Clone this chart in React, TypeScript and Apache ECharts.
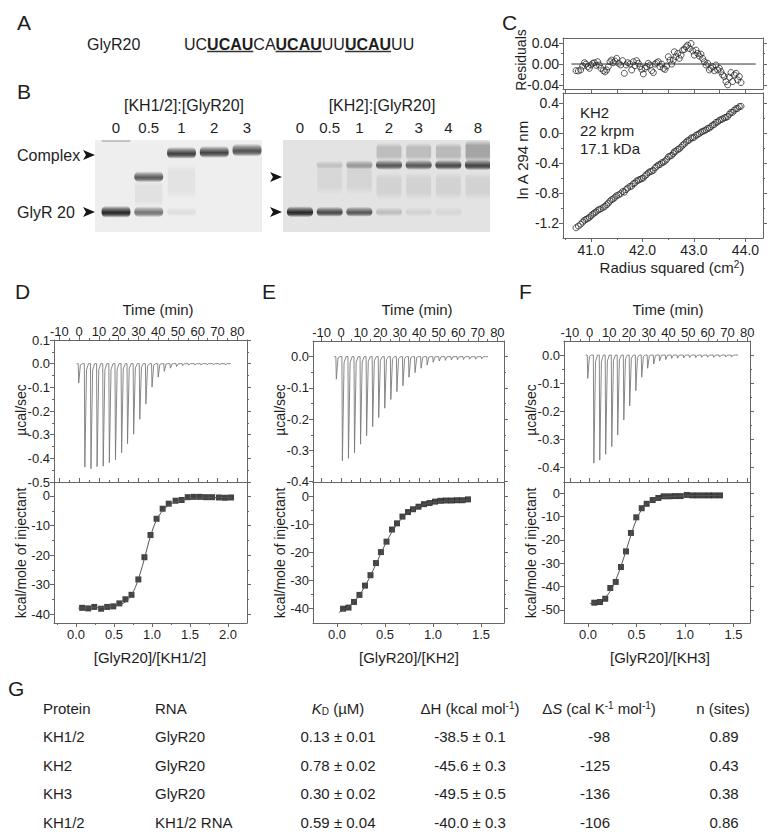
import React, { useEffect, useRef } from 'react';
import * as echarts from 'echarts';

const FONT = '"Liberation Sans", Arial, Helvetica, sans-serif';
const INK = '#1e1e1e';
const AXIS = '#666666';

// ---------------- Panel A
const seqName = 'GlyR20';
const seqParts = ['UC', 'UCAU', 'CA', 'UCAU', 'UU', 'UCAU', 'UU'];
const seqBold = [false, true, false, true, false, true, false];

// ---------------- Panel B (gels): [lane, migration (0 top .. 1 bottom), intensity, thickness, kind (0 band, 1 smear)]
const gel1Title = '[KH1/2]:[GlyR20]';
const gel1Lanes = ['0', '0.5', '1', '2', '3'];
const gel1Bands = [
  [0, 0.78, 0.92, 0.13, 0],
  [0, 0.01, 0.25, 0.03, 0],
  [1, 0.78, 0.55, 0.12, 0],
  [1, 0.4, 0.68, 0.12, 0],
  [1, 0.58, 0.06, 0.3, 1],
  [2, 0.14, 0.8, 0.13, 0],
  [2, 0.78, 0.07, 0.1, 0],
  [2, 0.45, 0.05, 0.4, 1],
  [3, 0.13, 0.78, 0.13, 0],
  [4, 0.11, 0.72, 0.14, 0],
];
const gel2Title = '[KH2]:[GlyR20]';
const gel2Lanes = ['0', '0.5', '1', '2', '3', '4', '8'];
const gel2Bands = [
  [0, 0.78, 0.92, 0.12, 0],
  [1, 0.78, 0.75, 0.11, 0],
  [1, 0.27, 0.15, 0.09, 0],
  [1, 0.42, 0.06, 0.35, 1],
  [2, 0.78, 0.68, 0.11, 0],
  [2, 0.27, 0.35, 0.1, 0],
  [2, 0.42, 0.07, 0.35, 1],
  [3, 0.78, 0.18, 0.1, 0],
  [3, 0.27, 0.68, 0.11, 0],
  [3, 0.13, 0.18, 0.2, 1],
  [3, 0.5, 0.08, 0.3, 1],
  [4, 0.78, 0.08, 0.1, 0],
  [4, 0.27, 0.68, 0.11, 0],
  [4, 0.13, 0.18, 0.2, 1],
  [4, 0.5, 0.08, 0.3, 1],
  [5, 0.78, 0.06, 0.1, 0],
  [5, 0.27, 0.75, 0.11, 0],
  [5, 0.13, 0.2, 0.2, 1],
  [5, 0.5, 0.08, 0.3, 1],
  [6, 0.27, 0.78, 0.12, 0],
  [6, 0.12, 0.3, 0.24, 1],
  [6, 0.5, 0.08, 0.3, 1],
];
const gelMarkers = ['Complex', 'GlyR 20'];

// ---------------- Panel C (sedimentation equilibrium)
const cRadiusSq = [
  40.709, 40.754, 40.799, 40.838, 40.871, 40.903, 40.935, 40.968, 41.0, 41.032,
  41.065, 41.097, 41.129, 41.162, 41.194, 41.239, 41.272, 41.304, 41.337, 41.369,
  41.401, 41.434, 41.466, 41.498, 41.537, 41.576, 41.615, 41.647, 41.68, 41.712,
  41.757, 41.79, 41.822, 41.854, 41.887, 41.919, 41.951, 41.984, 42.016, 42.049,
  42.081, 42.113, 42.146, 42.178, 42.21, 42.243, 42.275, 42.307, 42.34, 42.372,
  42.405, 42.437, 42.469, 42.502, 42.534, 42.566, 42.599, 42.618, 42.65, 42.683,
  42.715, 42.748, 42.78, 42.812, 42.845, 42.877, 42.909, 42.942, 42.974, 43.006,
  43.039, 43.071, 43.104, 43.136, 43.168, 43.201, 43.233, 43.265, 43.298, 43.33,
  43.362, 43.395, 43.427, 43.46, 43.492, 43.524, 43.557, 43.589, 43.621, 43.654,
  43.686, 43.718, 43.751, 43.783, 43.816, 43.848, 43.88, 43.913,
];
const cResiduals = [
  -0.0127, -0.0133, -0.0114, -0.0038, 0.0025, 0.0, -0.0051, -0.0083, -0.0019, 0.0013,
  0.0025, -0.0025, 0.0044, -0.0019, -0.0083, -0.0127, -0.0152, -0.0114, -0.0051, 0.0044,
  0.0076, 0.0025, 0.0057, 0.0108, 0.0013, -0.0019, 0.0064, -0.0178, -0.0019, 0.0025,
  0.0, -0.0114, 0.0044, -0.0032, 0.0064, 0.0013, -0.0051, -0.0102, -0.0191, -0.0083,
  -0.0051, 0.0013, -0.0019, -0.0127, -0.0165, 0.0, 0.0025, 0.0044, -0.0051, 0.0,
  -0.0083, -0.0102, -0.0038, 0.014, 0.0076, 0.0, 0.0076, 0.0235, 0.014, 0.0203,
  0.0108, 0.0171, 0.0267, 0.0279, 0.033, 0.0362, 0.0298, 0.0394, 0.0254, 0.0171,
  0.0267, 0.0203, 0.0152, 0.019, 0.0108, 0.0044, -0.0019, 0.0013, -0.0114, -0.0083,
  -0.0051, -0.0127, -0.0019, -0.0114, -0.0083, -0.0146, -0.021, -0.0241, -0.0337, -0.04,
  -0.0254, -0.0165, -0.0337, -0.021, -0.0178, -0.0305, -0.0241, -0.0356,
];
const cLnA = [
  -1.263, -1.241, -1.216, -1.188, -1.165, -1.151, -1.14, -1.126, -1.103, -1.084,
  -1.066, -1.054, -1.031, -1.02, -1.01, -0.992, -0.977, -0.957, -0.934, -0.908,
  -0.888, -0.877, -0.857, -0.835, -0.825, -0.808, -0.78, -0.788, -0.755, -0.734,
  -0.713, -0.708, -0.676, -0.667, -0.64, -0.629, -0.619, -0.607, -0.6, -0.572,
  -0.552, -0.53, -0.516, -0.51, -0.498, -0.464, -0.445, -0.427, -0.42, -0.398,
  -0.39, -0.375, -0.352, -0.318, -0.308, -0.299, -0.274, -0.249, -0.242, -0.219,
  -0.212, -0.188, -0.162, -0.145, -0.123, -0.103, -0.093, -0.067, -0.064, -0.056,
  -0.03, -0.02, -0.008, 0.012, 0.021, 0.031, 0.041, 0.061, 0.065, 0.085,
  0.104, 0.114, 0.141, 0.148, 0.168, 0.178, 0.188, 0.202, 0.208, 0.219,
  0.25, 0.275, 0.275, 0.304, 0.324, 0.328, 0.351, 0.356,
];
const cZeroSpan = [40.62, 44.2];
const cNotes = ['KH2', '22 krpm', '17.1 kDa'];
const cRadiusTicks = [41, 42, 43, 44];
const cRadiusMinor = [40.5, 41.5, 42.5, 43.5];
const cLnATicks = [-1.2, -0.8, -0.4, 0, 0.4];
const cLnAMinor = [-1.0, -0.6, -0.2, 0.2];
const cResidTicks = [-0.04, 0, 0.04];
const cResidMinor = [-0.02, 0.02];

// ---------------- Panels D-F (ITC)
const timeTicks = [-10, 0, 10, 20, 30, 40, 50, 60, 70, 80];
const timeMinor = [-5, 5, 15, 25, 35, 45, 55, 65, 75];

const dInjTime = [-0.5, 2.6, 5.7, 8.8, 11.9, 15.0, 18.1, 21.2, 24.2, 27.3, 30.4, 33.5, 36.6, 39.7, 42.8, 45.9, 49.0, 52.1, 55.1, 58.2, 61.3, 64.4, 67.5, 70.6, 73.7];
const dPeak = [-0.082, -0.437, -0.444, -0.435, -0.433, -0.418, -0.406, -0.376, -0.338, -0.298, -0.235, -0.17, -0.099, -0.057, -0.033, -0.019, -0.012, -0.008, -0.006, -0.005, -0.005, -0.004, -0.004, -0.004, -0.004];
const dTraceSpan = [-1.3, 76.7];
const dRatio = [0.08, 0.16, 0.24, 0.33, 0.41, 0.49, 0.57, 0.65, 0.73, 0.82, 0.9, 0.98, 1.06, 1.14, 1.22, 1.31, 1.39, 1.47, 1.55, 1.63, 1.71, 1.79, 1.88, 1.96, 2.04];
const dHeat = [-37.8, -38.0, -37.5, -38.1, -37.5, -37.3, -36.3, -34.9, -33.4, -28.2, -20.7, -13.2, -7.7, -4.3, -2.6, -1.6, -1.35, -0.4, -0.3, -0.3, -0.4, -0.4, -0.5, -0.6, -0.5];
const dFitRatio = [0.03, 0.2, 0.4, 0.5, 0.6, 0.66, 0.72, 0.78, 0.84, 0.9, 0.96, 1.02, 1.08, 1.16, 1.26, 1.4, 1.6, 2.05];
const dFitHeat = [-37.9, -37.8, -37.6, -37.3, -36.5, -35.6, -33.8, -30.9, -26.5, -21.2, -15.3, -10.5, -7.1, -4.4, -2.5, -1.3, -0.7, -0.5];

const eInjTime = [-2.7, 0.4, 3.5, 6.6, 9.7, 12.8, 15.9, 19.0, 22.1, 25.2, 28.3, 31.4, 34.5, 37.6, 40.7, 43.8, 46.9, 50.0, 53.1, 56.2, 59.3, 62.4, 65.5, 68.6, 71.7];
const ePeak = [-0.072, -0.333, -0.325, -0.308, -0.28, -0.253, -0.224, -0.195, -0.165, -0.137, -0.112, -0.093, -0.066, -0.051, -0.037, -0.027, -0.018, -0.014, -0.012, -0.011, -0.01, -0.009, -0.008, -0.008, -0.007];
const eTraceSpan = [-3.5, 75.2];
const eRatio = [0.063, 0.12, 0.177, 0.234, 0.292, 0.349, 0.406, 0.458, 0.516, 0.573, 0.625, 0.682, 0.74, 0.792, 0.849, 0.906, 0.964, 1.021, 1.078, 1.135, 1.193, 1.25, 1.307, 1.365];
const eHeat = [-40.0, -39.6, -37.6, -35.1, -31.8, -28.1, -23.8, -19.9, -16.2, -11.9, -9.7, -7.3, -5.7, -4.7, -3.8, -2.9, -2.5, -2.0, -1.7, -1.6, -1.6, -1.5, -1.5, -1.2];
const eFitRatio = [0.02, 0.1, 0.2, 0.3, 0.4, 0.5, 0.6, 0.7, 0.8, 0.9, 1.0, 1.15, 1.37];
const eFitHeat = [-41.3, -39.8, -36.7, -31.5, -24.6, -17.3, -11.3, -7.1, -4.6, -3.1, -2.3, -1.8, -1.4];

const fInjTime = [-1.2, 1.9, 4.9, 7.9, 11.0, 14.0, 17.1, 20.1, 23.2, 26.2, 29.2, 32.3, 35.3, 38.4, 41.4, 44.4, 47.5, 50.5, 53.6, 56.6, 59.6, 62.7, 65.7, 68.8, 71.8];
const fPeak = [-0.083, -0.385, -0.374, -0.353, -0.326, -0.285, -0.231, -0.181, -0.127, -0.079, -0.047, -0.032, -0.021, -0.016, -0.012, -0.011, -0.01, -0.009, -0.009, -0.008, -0.008, -0.008, -0.007, -0.007, -0.007];
const fTraceSpan = [-2.0, 75.4];
const fRatio = [0.065, 0.124, 0.178, 0.23, 0.286, 0.34, 0.392, 0.443, 0.498, 0.554, 0.605, 0.667, 0.725, 0.78, 0.838, 0.897, 0.956, 1.018, 1.075, 1.131, 1.189, 1.247, 1.302, 1.361];
const fHeat = [-46.9, -46.6, -45.2, -40.6, -38.0, -31.6, -24.9, -17.0, -10.3, -6.4, -4.5, -2.9, -2.0, -1.3, -1.3, -1.2, -1.2, -0.7, -0.9, -0.9, -0.9, -0.9, -0.9, -0.9];
const fFitRatio = [0.02, 0.1, 0.16, 0.22, 0.28, 0.34, 0.4, 0.45, 0.5, 0.55, 0.6, 0.67, 0.75, 0.85, 1.0, 1.37];
const fFitHeat = [-47.3, -46.6, -45.4, -42.6, -37.8, -31.3, -23.6, -17.0, -11.2, -7.2, -4.8, -3.0, -1.9, -1.4, -1.1, -0.9];

const itcXLabels = ['[GlyR20]/[KH1/2]', '[GlyR20]/[KH2]', '[GlyR20]/[KH3]'];

// ---------------- Panel G (table)
const tableProtein = ['KH1/2', 'KH2', 'KH3', 'KH1/2'];
const tableRNA = ['GlyR20', 'GlyR20', 'GlyR20', 'KH1/2 RNA'];
const tableKD = ['0.13 ± 0.01', '0.78 ± 0.02', '0.30 ± 0.02', '0.59 ± 0.04'];
const tableDH = ['-38.5 ± 0.1', '-45.6 ± 0.3', '-49.5 ± 0.5', '-40.0 ± 0.3'];
const tableDS = ['-98', '-125', '-136', '-106'];
const tableN = ['0.89', '0.43', '0.38', '0.86'];

const zip = (a: number[], b: number[]) => a.map((v, i) => [v, b[i]]);

function trace(times: number[], peaks: number[], span: number[]) {
  const pts: number[][] = [[span[0], 0]];
  times.forEach((t, i) => {
    const d = peaks[i];
    pts.push([t, 0], [t + 0.25, d], [t + 1.1, d * 0.06], [t + 2.1, 0]);
  });
  pts.push([span[1], 0]);
  return pts;
}

function buildOption() {
  const xAxes: any[] = [];
  const yAxes: any[] = [];
  function addAxis(dim: string, grid: number, pos: string, min: number, max: number, major: number[], minor: number[], o: any = {}) {
    const list = dim === 'x' ? xAxes : yAxes;
    const idx = list.length;
    const inR = (v: number) => v >= min - 1e-9 && v <= max + 1e-9;
    const maj = major.filter(inR);
    const mnr = minor.filter(inR);
    const base = { type: 'value', gridIndex: grid, position: pos, min, max, splitLine: { show: false }, splitArea: { show: false }, axisPointer: { show: false }, silent: true };
    list.push({
      ...base,
      axisLine: { show: true, onZero: false, lineStyle: { color: AXIS, width: 1 } },
      axisTick: { show: maj.length > 0, customValues: maj, length: 4, inside: !!o.inside, lineStyle: { color: AXIS, width: 1 } },
      axisLabel: { show: !!o.labels, customValues: maj, formatter: o.fmt, margin: o.margin ?? 4, fontSize: o.size ?? 13, lineHeight: o.lh ?? 12, color: INK, fontFamily: FONT },
    });
    if (mnr.length) {
      list.push({
        ...base,
        axisLine: { show: false, onZero: false },
        axisTick: { show: true, customValues: mnr, length: 2, inside: !!o.inside, lineStyle: { color: AXIS, width: 1 } },
        axisLabel: { show: false },
      });
    }
    return idx;
  }

  const grids = [
    { left: 563, top: 38, width: 200, height: 51 },
    { left: 563, top: 93, width: 200, height: 145 },
    { left: 54, top: 340, width: 193, height: 142 },
    { left: 54, top: 482, width: 193, height: 141 },
    { left: 313, top: 341, width: 191, height: 141 },
    { left: 313, top: 482, width: 191, height: 141 },
    { left: 564, top: 341, width: 186, height: 141 },
    { left: 564, top: 482, width: 186, height: 141 },
    { left: 95, top: 140, width: 167, height: 92, show: true, backgroundColor: '#eeeeee', borderWidth: 0 },
    { left: 283, top: 140, width: 207, height: 92, show: true, backgroundColor: '#e3e3e3', borderWidth: 0 },
  ].map((g) => ({ containLabel: false, outerBoundsMode: 'none', ...g }));

  const series: any[] = [];
  const f1 = (v: number) => v.toFixed(1);
  const f2 = (v: number) => v.toFixed(2);
  const f0 = (v: number) => String(Math.round(v) || 0);

  // ---- C
  const cxMin = 40.456, cxMax = 44.34;
  const rx = addAxis('x', 0, 'bottom', cxMin, cxMax, cRadiusTicks, cRadiusMinor);
  addAxis('x', 0, 'top', cxMin, cxMax, [], []);
  const ry = addAxis('y', 0, 'left', -0.048, 0.05, cResidTicks, cResidMinor, { labels: true, fmt: f2, size: 14, lh: 14 });
  addAxis('y', 0, 'right', -0.048, 0.05, cResidTicks, cResidMinor);
  const mx = addAxis('x', 1, 'bottom', cxMin, cxMax, cRadiusTicks, cRadiusMinor, { labels: true, fmt: f1, size: 14, lh: 14, margin: 5 });
  addAxis('x', 1, 'top', cxMin, cxMax, cRadiusTicks, cRadiusMinor);
  const my = addAxis('y', 1, 'left', -1.4, 0.533, cLnATicks, cLnAMinor, { labels: true, fmt: f1, size: 14, lh: 14 });
  addAxis('y', 1, 'right', -1.4, 0.533, cLnATicks, cLnAMinor);

  series.push({ type: 'line', xAxisIndex: rx, yAxisIndex: ry, data: [[cZeroSpan[0], 0], [cZeroSpan[1], 0]], symbol: 'none', lineStyle: { color: '#333', width: 1 }, silent: true });
  series.push({ type: 'scatter', xAxisIndex: rx, yAxisIndex: ry, data: zip(cRadiusSq, cResiduals), symbol: 'circle', symbolSize: 6, itemStyle: { color: 'rgba(0,0,0,0)', borderColor: '#2a2a2a', borderWidth: 1 }, silent: true });
  series.push({ type: 'scatter', xAxisIndex: mx, yAxisIndex: my, data: zip(cRadiusSq, cLnA), symbol: 'circle', symbolSize: 6, itemStyle: { color: 'rgba(0,0,0,0)', borderColor: '#2a2a2a', borderWidth: 1 }, silent: true });

  // ---- ITC panels
  function itc(gTop: number, gBot: number, tRange: number[], rawRange: number[], rawMajor: number[], rawMinor: number[], rRange: number[], rMajor: number[], rMinor: number[], hRange: number[], hMajor: number[], hMinor: number[], d: any) {
    const tx = addAxis('x', gTop, 'top', tRange[0], tRange[1], timeTicks, timeMinor, { labels: true, fmt: f0, margin: 3 });
    addAxis('x', gTop, 'bottom', tRange[0], tRange[1], timeTicks, timeMinor, { inside: true });
    const ty = addAxis('y', gTop, 'left', rawRange[0], rawRange[1], rawMajor, rawMinor, { labels: true, fmt: f1 });
    addAxis('y', gTop, 'right', rawRange[0], rawRange[1], rawMajor, rawMinor);
    const bx = addAxis('x', gBot, 'bottom', rRange[0], rRange[1], rMajor, rMinor, { labels: true, fmt: f1, margin: 5 });
    addAxis('x', gBot, 'top', rRange[0], rRange[1], [], []);
    const by = addAxis('y', gBot, 'left', hRange[0], hRange[1], hMajor, hMinor, { labels: true, fmt: f0 });
    addAxis('y', gBot, 'right', hRange[0], hRange[1], hMajor, hMinor);
    series.push({ type: 'line', xAxisIndex: tx, yAxisIndex: ty, data: trace(d.times, d.peaks, d.span), symbol: 'none', lineStyle: { color: '#7a7a7a', width: 0.9 }, silent: true });
    series.push({ type: 'line', xAxisIndex: bx, yAxisIndex: by, data: zip(d.fitR, d.fitH), symbol: 'none', smooth: 0.35, lineStyle: { color: '#555', width: 1 }, silent: true });
    series.push({ type: 'scatter', xAxisIndex: bx, yAxisIndex: by, data: zip(d.r, d.h), symbol: 'rect', symbolSize: 6, itemStyle: { color: '#141414' }, silent: true });
  }
  const rawD = [-0.5, -0.4, -0.3, -0.2, -0.1, 0, 0.1];
  const rawDm = [-0.45, -0.35, -0.25, -0.15, -0.05, 0.05];
  const rawE = [-0.4, -0.3, -0.2, -0.1, 0];
  const rawEm = [-0.35, -0.25, -0.15, -0.05];
  const heat4 = [-40, -30, -20, -10, 0];
  const heat4m = [-35, -25, -15, -5];
  const heat5 = [-50, -40, -30, -20, -10, 0];
  const heat5m = [-45, -35, -25, -15, -5];
  const ratioD = [0, 0.5, 1, 1.5, 2];
  const ratioDm = [-0.25, 0.25, 0.75, 1.25, 1.75];
  const ratioE = [0, 0.5, 1, 1.5];
  const ratioEm = [0.25, 0.75, 1.25];

  itc(2, 3, [-12.75, 84.9], [-0.5, 0.1], rawD, rawDm, [-0.29, 2.25], ratioD, ratioDm, [-42.93, 4.73], heat4, heat4m,
    { times: dInjTime, peaks: dPeak, span: dTraceSpan, r: dRatio, h: dHeat, fitR: dFitRatio, fitH: dFitHeat });
  itc(4, 5, [-14.4, 83.4], [-0.401, 0.05], rawE, rawEm, [-0.25, 1.74], ratioE, ratioEm, [-45.07, 4.97], heat4, heat4m,
    { times: eInjTime, peaks: ePeak, span: eTraceSpan, r: eRatio, h: eHeat, fitR: eFitRatio, fitH: eFitHeat });
  itc(6, 7, [-13.0, 81.4], [-0.452, 0.05], rawE, rawEm, [-0.247, 1.67], ratioE, ratioEm, [-55.6, 4.84], heat5, heat5m,
    { times: fInjTime, peaks: fPeak, span: fTraceSpan, r: fRatio, h: fHeat, fitR: fFitRatio, fitH: fFitHeat });

  // ---- Gels
  function gel(grid: number, lanes: string[], min: number, max: number, bands: number[][]) {
    const xi = xAxes.length;
    xAxes.push({
      type: 'value', gridIndex: grid, position: 'top', min, max, splitLine: { show: false },
      axisLine: { show: false }, axisTick: { show: false },
      axisLabel: { show: true, customValues: lanes.map((_, i) => i), formatter: (v: number) => lanes[Math.round(v)], margin: 5, fontSize: 15, color: INK, fontFamily: FONT },
    });
    const yi = yAxes.length;
    yAxes.push({ type: 'value', gridIndex: grid, min: 0, max: 1, inverse: true, show: false, splitLine: { show: false } });
    series.push({
      type: 'custom', xAxisIndex: xi, yAxisIndex: yi, data: bands, silent: true, clip: true,
      renderItem: (params: any, api: any) => {
        const lane = api.value(0), pos = api.value(1), a = api.value(2), th = api.value(3), kind = api.value(4);
        const c = api.coord([lane, pos]);
        const w = Math.abs(api.size([kind ? 0.84 : 0.88, 0])[0]);
        const h = Math.abs(api.size([0, th])[1]);
        const stops = kind
          ? [
              { offset: 0, color: 'rgba(20,20,20,0)' },
              { offset: 0.25, color: `rgba(20,20,20,${a})` },
              { offset: 0.75, color: `rgba(20,20,20,${a})` },
              { offset: 1, color: 'rgba(20,20,20,0)' },
            ]
          : [
              { offset: 0, color: 'rgba(20,20,20,0)' },
              { offset: 0.25, color: `rgba(20,20,20,${a * 0.55})` },
              { offset: 0.55, color: `rgba(20,20,20,${a})` },
              { offset: 0.75, color: `rgba(20,20,20,${a * 0.8})` },
              { offset: 1, color: 'rgba(20,20,20,0)' },
            ];
        return {
          type: 'rect',
          shape: { x: c[0] - w / 2, y: c[1] - h / 2, width: w, height: h, r: Math.min(h / 2, 5) },
          style: { fill: new echarts.graphic.LinearGradient(0, 0, 0, 1, stops) },
        };
      },
    });
  }
  gel(8, gel1Lanes, -0.641, 4.458, gel1Bands);
  gel(9, gel2Lanes, -0.573, 6.404, gel2Bands);

  return { xAxes, yAxes, grids, series };
}

function txt(text: string, x: number, y: number, o: any = {}) {
  const align = o.align || 'left';
  return {
    type: 'text', x, y, rotation: o.rot || 0, silent: true, z: 10,
    style: {
      text, fill: INK, fontSize: o.size || 15, fontFamily: FONT,
      fontWeight: o.weight || 'normal', fontStyle: o.italic ? 'italic' : 'normal',
      textAlign: align, align, textVerticalAlign: 'middle', verticalAlign: 'middle',
      lineHeight: o.lh, rich: o.rich,
    },
  };
}

function arrow(x: number, y: number) {
  return { type: 'polygon', silent: true, z: 10, shape: { points: [[x, y - 5], [x + 12, y], [x, y + 5], [x + 3, y]] }, style: { fill: '#151515' } };
}

function buildGraphics() {
  const els: any[] = [];
  // panel letters
  const letters: any[] = [['A', 17, 22], ['B', 17, 91], ['C', 502, 22], ['D', 15, 291], ['E', 262, 291], ['F', 519, 291], ['G', 8, 688]];
  letters.forEach(([l, x, y]) => els.push(txt(l, x, y, { size: 21 })));

  // panel A sequence
  els.push(txt(seqName, 87, 44, { size: 16 }));
  const ctx = document.createElement('canvas').getContext('2d') as CanvasRenderingContext2D;
  let sx = 184;
  seqParts.forEach((p, i) => {
    ctx.font = `${seqBold[i] ? 'bold ' : ''}16px ${FONT}`;
    const w = ctx.measureText(p).width;
    els.push(txt(p, sx, 44, { size: 16, weight: seqBold[i] ? 'bold' : 'normal' }));
    if (seqBold[i]) {
      els.push({ type: 'line', silent: true, z: 10, shape: { x1: sx, y1: 51.5, x2: sx + w, y2: 51.5 }, style: { stroke: '#333', lineWidth: 1.6 } });
    }
    sx += w;
  });

  // panel B annotations
  els.push(txt(gel1Title, 184, 105, { size: 16, align: 'center' }));
  els.push(txt(gel2Title, 382, 105, { size: 16, align: 'center' }));
  els.push(txt(gelMarkers[0], 17, 155, { size: 16 }));
  els.push(arrow(83, 155));
  els.push(txt(gelMarkers[1], 17, 212, { size: 16 }));
  els.push(arrow(83, 212));
  els.push(arrow(270, 177));
  els.push(arrow(270, 212));

  // panel C texts
  cNotes.forEach((t, i) => els.push(txt(t, 580, 112 + i * 18, { size: 15 })));
  els.push(txt('Residuals', 521, 60, { size: 14, align: 'center', rot: Math.PI / 2 }));
  els.push(txt('ln A 294 nm', 522, 160, { size: 15, align: 'center', rot: Math.PI / 2 }));
  els.push(txt('Radius squared (cm{sup|2})', 672, 267, { size: 15, align: 'center', lh: 16, rich: { sup: { fontSize: 10, fontFamily: FONT, fill: INK, verticalAlign: 'top', lineHeight: 10 } } }));

  // ITC titles
  const tc = [158, 417, 668];
  const yl = [21, 280, 531];
  const bc = [150, 409, 660];
  for (let i = 0; i < 3; i++) {
    els.push(txt('Time (min)', tc[i], 309, { size: 15, align: 'center' }));
    els.push(txt('µcal/sec', yl[i], 410, { size: 14, align: 'center', rot: Math.PI / 2 }));
    els.push(txt('kcal/mole of injectant', yl[i], 553, { size: 14, align: 'center', rot: Math.PI / 2 }));
    els.push(txt(itcXLabels[i], bc[i], 657, { size: 15, align: 'center' }));
  }

  // panel G table
  const sup = { fontSize: 10, fontFamily: FONT, fill: INK, verticalAlign: 'top', lineHeight: 10 };
  const sub = { fontSize: 10, fontFamily: FONT, fill: INK, verticalAlign: 'bottom', lineHeight: 10 };
  const ital = { fontSize: 15, fontFamily: FONT, fill: INK, fontStyle: 'italic' };
  const hy = 708;
  els.push(txt('Protein', 43, hy));
  els.push(txt('RNA', 155, hy));
  els.push(txt('{i|K}{sub|D} (µM)', 338, hy, { align: 'center', lh: 16, rich: { i: ital, sub } }));
  els.push(txt('ΔH (kcal mol{sup|-1})', 470, hy, { align: 'center', lh: 16, rich: { sup } }));
  els.push(txt('Δ{i|S} (cal K{sup|-1} mol{sup|-1})', 599, hy, { align: 'center', lh: 16, rich: { sup, i: ital } }));
  els.push(txt('n (sites)', 723, hy, { align: 'center' }));
  const rowY = [736, 765, 793, 822];
  rowY.forEach((y, i) => {
    els.push(txt(tableProtein[i], 43, y));
    els.push(txt(tableRNA[i], 155, y));
    els.push(txt(tableKD[i], 338, y, { align: 'center' }));
    els.push(txt(tableDH[i], 470, y, { align: 'center' }));
    els.push(txt(tableDS[i], 610, y, { align: 'right' }));
    els.push(txt(tableN[i], 724, y, { align: 'center' }));
  });
  return els;
}

export default function App() {
  const ref = useRef<HTMLDivElement>(null);
  useEffect(() => {
    if (!ref.current) return;
    const chart = echarts.init(ref.current, undefined, { renderer: 'svg' });
    const { xAxes, yAxes, grids, series } = buildOption();
    chart.setOption({
      animation: false,
      backgroundColor: '#ffffff',
      textStyle: { fontFamily: FONT },
      grid: grids,
      xAxis: xAxes,
      yAxis: yAxes,
      series,
      graphic: { elements: buildGraphics() },
    });
    return () => chart.dispose();
  }, []);
  return <div ref={ref} style={{ position: 'fixed', left: 0, top: 0, width: 773, height: 837, background: '#fff' }} />;
}
